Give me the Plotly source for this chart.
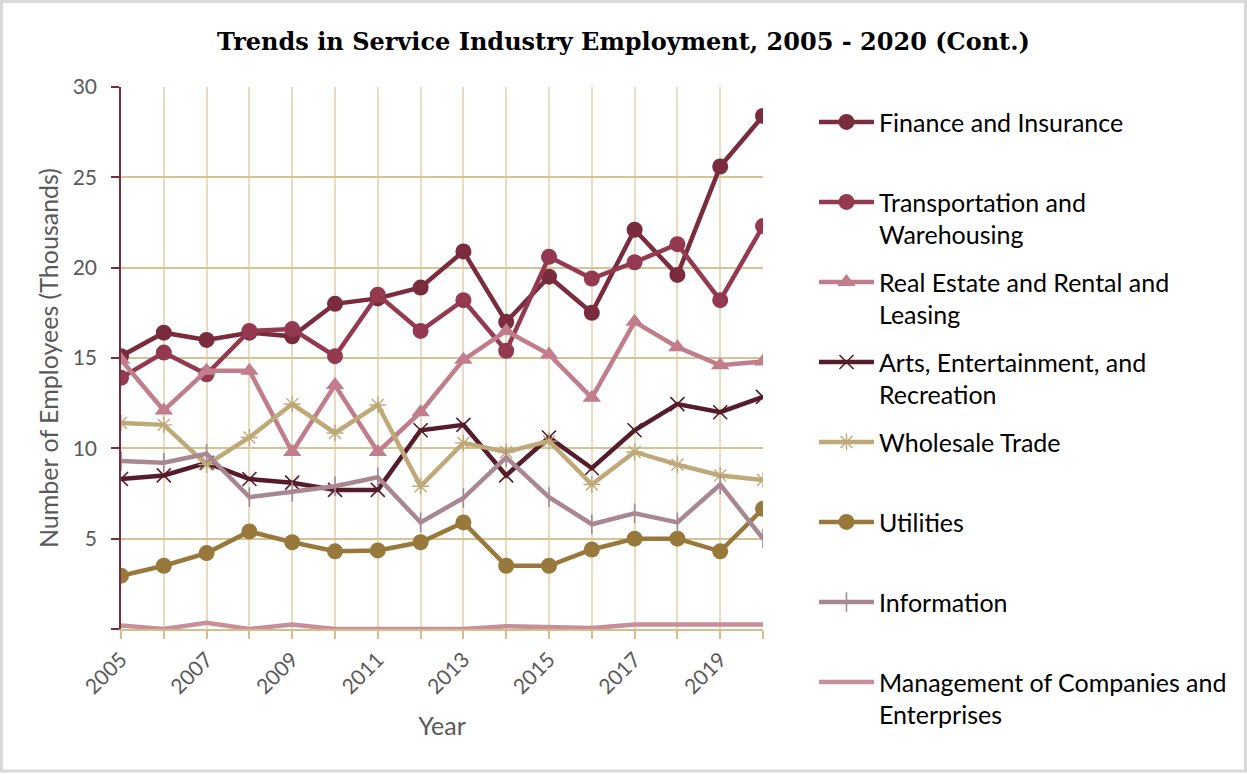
import plotly.graph_objects as go

years = list(range(2005, 2021))

finance = [15.1, 16.4, 16.0, 16.4, 16.2, 18.0, 18.3, 18.9, 20.9, 17.0, 19.5, 17.5, 22.1, 19.6, 25.6, 28.4]
transport = [13.9, 15.3, 14.1, 16.5, 16.6, 15.1, 18.5, 16.5, 18.2, 15.4, 20.6, 19.4, 20.3, 21.3, 18.2, 22.3]
real_estate = [14.9, 12.1, 14.3, 14.3, 9.8, 13.5, 9.8, 12.0, 14.9, 16.5, 15.2, 12.8, 17.0, 15.6, 14.6, 14.8]
arts = [8.3, 8.5, 9.2, 8.3, 8.1, 7.7, 7.7, 11.0, 11.3, 8.5, 10.6, 8.9, 11.0, 12.45, 12.0, 12.85]
wholesale = [11.4, 11.3, 9.1, 10.6, 12.45, 10.85, 12.4, 7.9, 10.3, 9.8, 10.4, 8.0, 9.8, 9.1, 8.5, 8.25]
utilities = [2.95, 3.5, 4.2, 5.4, 4.8, 4.3, 4.35, 4.8, 5.9, 3.5, 3.5, 4.4, 5.0, 5.0, 4.3, 6.65]
information = [9.3, 9.2, 9.7, 7.3, 7.6, 7.9, 8.4, 5.9, 7.25, 9.5, 7.3, 5.8, 6.4, 5.9, 8.0, 5.0]
management = [0.2, 0.0, 0.35, 0.0, 0.25, 0.0, 0.0, 0.0, 0.0, 0.15, 0.1, 0.05, 0.25, 0.25, 0.2, 0.25]

y_ticks = [0, 5, 10, 15, 20, 25, 30]
y_tick_labels = ["", "5", "10", "15", "20", "25", "30"]
x_tick_labels = [str(y) if y % 2 == 1 else "" for y in years]

series = [
    ("Finance and Insurance<br> ", finance, "#7A2C3E", "circle", 16, 0),
    ("Transportation and<br>Warehousing", transport, "#943950", "circle", 16, 0),
    ("Real Estate and Rental and<br>Leasing", real_estate, "#C17D8B", "triangle-up", 16, 0),
    ("Arts, Entertainment, and<br>Recreation", arts, "#561C2B", "x-thin-open", 14, 1.6),
    ("Wholesale Trade<br> ", wholesale, "#BFA978", "asterisk-open", 14, 1.4),
    ("Utilities<br> ", utilities, "#98793B", "circle", 16, 0),
    ("Information<br> ", information, "#A88790", "line-ns-open", 14, 1.6),
    ("Management of Companies and<br>Enterprises", management, "#C78F99", "circle", 0, 0),
]

fig = go.Figure()
for i, (name, vals, color, sym, size, lw) in enumerate(series):
    marker = dict(symbol=sym, size=size, color=color)
    if lw:
        marker["line"] = dict(color=color, width=lw)
    fig.add_trace(go.Scatter(
        x=years, y=vals, name=name, legendgroup=f"g{i}",
        mode="lines+markers" if size else "lines",
        line=dict(color=color, width=4.5),
        marker=marker,
    ))

L, R, T, B = 121, 484, 87, 146
W, H = 1247, 775
pw, ph = W - L - R, H - T - B

fig.update_layout(
    width=W, height=H,
    margin=dict(l=L, r=R, t=T, b=B, autoexpand=False),
    paper_bgcolor="white", plot_bgcolor="white",
    font=dict(family="Lato", color="#595959"),
    title=dict(
        text="Trends in Service Industry Employment, 2005 - 2020 (Cont.)",
        font=dict(family="DejaVu Serif", size=24, color="#000000", weight="bold"),
        x=0.5, xanchor="center", xref="container",
        y=1 - 42 / H, yanchor="middle", yref="container",
    ),
    legend=dict(
        x=1.0794, y=0.872, xanchor="left", yanchor="top", yref="container",
        font=dict(family="Lato", size=25, color="#000000"),
        valign="top", tracegroupgap=12, itemwidth=55, maxheight=760,
        bgcolor="rgba(0,0,0,0)",
    ),
    showlegend=True,
)

fig.update_xaxes(
    range=[2005, 2020], tickmode="array", tickvals=years, ticktext=x_tick_labels,
    tickangle=-45, tickfont=dict(size=21, color="#595959"), automargin=False,
    showgrid=True, gridcolor="#E8DCC0", gridwidth=1.5,
    showline=True, linecolor="#D6BE8C", linewidth=2,
    ticks="outside", ticklen=8, tickcolor="#D6BE8C", tickwidth=1.5,
    zeroline=False,
    title=dict(text="Year", font=dict(size=25, color="#595959"), standoff=20),
)
fig.update_yaxes(
    range=[0, 30], tickmode="array", tickvals=y_ticks, ticktext=y_tick_labels,
    tickfont=dict(size=21, color="#595959"), ticklabelstandoff=10, automargin=False,
    showgrid=True, gridcolor="#D9C291", gridwidth=2,
    showline=True, linecolor="#7A2C3E", linewidth=1.5,
    ticks="outside", ticklen=8, tickcolor="#7A2C3E", tickwidth=1.5,
    zeroline=False,
    title=dict(text="Number of Employees (Thousands)", font=dict(size=25, color="#595959"), standoff=7),
)

# light frame around the whole chart
fig.add_shape(
    type="rect", xref="paper", yref="paper",
    x0=(1.5 - L) / pw, x1=(W - 1.5 - L) / pw,
    y0=-(B - 4) / ph, y1=(ph + T - 1.5) / ph,
    line=dict(color="#D9D9D9", width=3), layer="below",
)

fig.write_html("out.html")
